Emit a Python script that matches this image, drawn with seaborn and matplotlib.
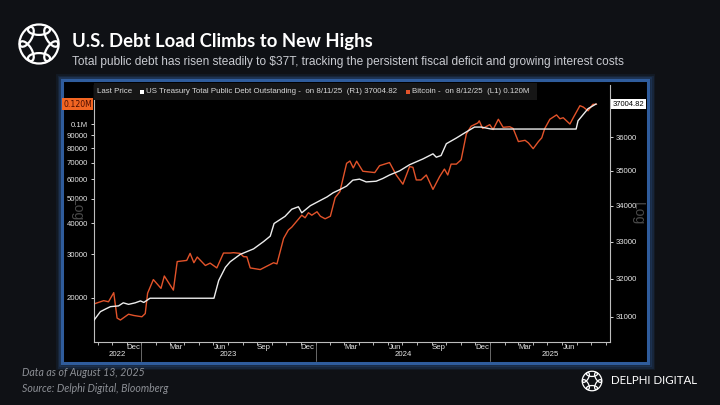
import math
import pandas as pd
import seaborn as sns
import matplotlib.pyplot as plt
import matplotlib.dates as mdates
import matplotlib.transforms as mtransforms
from matplotlib.patches import Rectangle, Ellipse
from matplotlib.ticker import FixedLocator, FixedFormatter, NullLocator

# Bitcoin weekly-ish closes (left axis, log)
btc_dates = [
    "2022-09-23", "2022-10-14", "2022-10-24", "2022-11-04", "2022-11-11", "2022-11-18",
    "2022-12-05", "2022-12-16", "2023-01-02", "2023-01-09", "2023-01-14", "2023-01-26",
    "2023-02-11", "2023-02-18", "2023-03-09", "2023-03-17", "2023-04-06", "2023-04-13",
    "2023-04-21", "2023-04-28", "2023-05-15", "2023-05-25", "2023-06-08", "2023-06-22",
    "2023-07-06", "2023-07-13", "2023-07-27", "2023-08-03", "2023-08-10", "2023-08-17",
    "2023-09-07", "2023-10-05", "2023-10-12", "2023-10-26", "2023-11-05", "2023-11-12",
    "2023-12-03", "2023-12-10", "2023-12-17", "2023-12-24", "2024-01-04", "2024-01-11",
    "2024-01-21", "2024-02-01", "2024-02-11", "2024-02-21", "2024-03-06", "2024-03-13",
    "2024-03-20", "2024-03-27", "2024-04-09", "2024-05-04", "2024-05-14", "2024-06-04",
    "2024-06-18", "2024-07-02", "2024-07-16", "2024-07-23", "2024-07-30", "2024-08-09",
    "2024-08-20", "2024-09-03", "2024-09-17", "2024-09-27", "2024-10-04", "2024-10-11",
    "2024-10-22", "2024-11-01", "2024-11-12", "2024-11-22", "2024-12-06", "2024-12-09",
    "2024-12-16", "2024-12-31", "2025-01-07", "2025-01-18", "2025-01-28", "2025-02-11",
    "2025-02-18", "2025-03-01", "2025-03-15", "2025-03-22", "2025-04-01", "2025-04-12",
    "2025-04-19", "2025-04-25", "2025-05-06", "2025-05-20", "2025-05-27", "2025-06-03",
    "2025-06-17", "2025-06-24", "2025-07-08", "2025-07-15", "2025-07-25", "2025-08-04",
    "2025-08-12",
]
btc_values = [
    18900, 19500, 19300, 21000, 16600, 16300,
    17200, 17000, 16800, 17300, 20900, 23700,
    21850, 24500, 21500, 28000, 28300, 30200,
    27700, 29200, 27000, 27600, 26400, 30300,
    30300, 30400, 30200, 29300, 29250, 26400,
    26000, 27700, 27400, 34700, 37500, 38500,
    43000, 42000, 44000, 43000, 44400, 42600,
    41600, 42600, 50600, 53500, 69500, 71000,
    66600, 70900, 64600, 63800, 68000, 70000,
    62400, 57300, 67400, 67000, 59600, 59600,
    62400, 54600, 61500, 65900, 62400, 69000,
    69000, 71800, 91300, 98000, 101000, 103000,
    96000, 99400, 95000, 104500, 97000, 97500,
    96000, 85000, 86000, 84000, 79600, 85000,
    88000, 95700, 104500, 108800, 105000, 106000,
    100000, 106000, 118500, 117000, 113000, 120000,
    120000,
]

# US Treasury total public debt outstanding, $bn (right axis, log)
debt_dates = [
    "2022-09-23", "2022-10-07", "2022-10-18", "2022-10-28", "2022-11-14", "2022-11-24",
    "2022-12-05", "2022-12-19", "2022-12-30", "2023-01-06", "2023-01-19", "2023-06-02",
    "2023-06-12", "2023-06-26", "2023-07-06", "2023-07-27", "2023-08-24", "2023-09-14",
    "2023-09-28", "2023-10-06", "2023-10-29", "2023-11-12", "2023-11-26", "2023-12-03",
    "2023-12-21", "2024-01-04", "2024-01-25", "2024-02-07", "2024-02-21", "2024-03-06",
    "2024-03-19", "2024-04-02", "2024-04-16", "2024-05-07", "2024-05-21", "2024-06-04",
    "2024-06-25", "2024-07-16", "2024-08-13", "2024-09-03", "2024-09-10", "2024-09-20",
    "2024-10-01", "2024-10-22", "2024-11-08", "2024-11-29", "2024-12-13", "2025-01-03",
    "2025-06-30", "2025-07-04", "2025-07-25", "2025-08-11",
]
debt_values = [
    30900, 31130, 31200, 31260, 31280, 31360,
    31320, 31360, 31410, 31370, 31480, 31480,
    31950, 32300, 32450, 32650, 32800, 33000,
    33150, 33500, 33700, 33900, 33970, 33800,
    34000, 34100, 34250, 34370, 34460, 34560,
    34730, 34760, 34680, 34700, 34780, 34880,
    35000, 35180, 35350, 35500, 35400, 35450,
    35800, 35970, 36120, 36300, 36300, 36240,
    36240, 36490, 36860, 37004.82,
]

btc_ticks = [20000, 30000, 40000, 50000, 60000, 70000, 80000, 90000, 100000]
btc_tick_labels = ["20000", "30000", "40000", "50000", "60000", "70000", "80000", "90000", "0.1M"]
debt_ticks = [31000, 32000, 33000, 34000, 35000, 36000]
debt_tick_labels = ["31000", "32000", "33000", "34000", "35000", "36000"]

BG = "#0f1115"
ORANGE = "#e2532a"
WHITE_LINE = "#ececec"
TICK = "#d6d6d6"
BLUE = "#2f5c9c"

W, H = 720, 405


def fx(px):
    return px / W


def fy(py):
    return 1 - py / H


def draw_knot(fig, cx, cy, half_px, lw):
    # rough stand-in for the Delphi ring logo: six linked loops
    lax = fig.add_axes([fx(cx - half_px), fy(cy + half_px), 2 * half_px / W, 2 * half_px / H])
    lax.set_xlim(-1, 1)
    lax.set_ylim(-1, 1)
    lax.set_aspect("equal")
    lax.axis("off")
    for k in range(6):
        th = k * 60 + 30
        c = math.radians(th)
        lax.add_patch(Ellipse((0.55 * math.cos(c), 0.55 * math.sin(c)), 0.85, 0.4,
                              angle=th + 90, fill=False, ec="white", lw=lw))


sns.set_theme(style="dark")
plt.rcParams["font.family"] = ["Liberation Sans", "DejaVu Sans"]

fig = plt.figure(figsize=(7.2, 4.05), dpi=100, facecolor=BG)

# chart panel with blue glow border (kept behind the axes)
for grow, alpha in [(5, 0.12), (3.5, 0.2), (2, 0.35)]:
    fig.patches.append(Rectangle((fx(62 - grow), fy(363 + grow)), (586 + 2 * grow) / W,
                                 (283 + 2 * grow) / H, transform=fig.transFigure,
                                 fc="none", ec=BLUE, lw=2, alpha=alpha, zorder=-2))
fig.patches.append(Rectangle((fx(62), fy(363)), 586 / W, 283 / H, transform=fig.transFigure,
                             fc="black", ec=BLUE, lw=2.2, zorder=-1))

ax = fig.add_axes([fx(93.7), fy(342), (610 - 93.7) / W, (342 - 85) / H])
ax.set_facecolor("black")
ax2 = ax.twinx()

btc = pd.DataFrame({"date": pd.to_datetime(btc_dates), "value": btc_values})
debt = pd.DataFrame({"date": pd.to_datetime(debt_dates), "value": debt_values})

sns.lineplot(data=btc, x="date", y="value", ax=ax, color=ORANGE, linewidth=1.0, errorbar=None)
sns.lineplot(data=debt, x="date", y="value", ax=ax2, color=WHITE_LINE, linewidth=1.0, errorbar=None)

ax.set_yscale("log")
ax2.set_yscale("log")
ax.set_ylim(13300, 143500)
ax2.set_ylim(30354, 37593)
ax.set_xlim(pd.Timestamp("2022-09-23"), pd.Timestamp("2025-09-09"))

for a, ticks, labels in [(ax, btc_ticks, btc_tick_labels), (ax2, debt_ticks, debt_tick_labels)]:
    a.yaxis.set_major_locator(FixedLocator(ticks))
    a.yaxis.set_major_formatter(FixedFormatter(labels))
    a.yaxis.set_minor_locator(NullLocator())
    a.set_xlabel("")
    a.set_ylabel("")
    a.grid(False)
    for s in a.spines.values():
        s.set_visible(False)

ax.tick_params(axis="y", which="major", left=True, length=2.5, width=0.7, color=TICK,
               labelsize=5.6, labelcolor="#e6e6e6", pad=1.5)
ax2.tick_params(axis="y", which="major", right=True, length=2.5, width=0.7, color=TICK,
                labelsize=5.6, labelcolor="#e6e6e6", pad=1.5)
ax.spines["left"].set_visible(True)
ax.spines["bottom"].set_visible(True)
ax2.spines["right"].set_visible(True)
for s in [ax.spines["left"], ax.spines["bottom"], ax2.spines["right"]]:
    s.set_color("#bdbdbd")
    s.set_linewidth(0.8)

# month ticks and quarter labels
ax.xaxis.set_major_locator(mdates.MonthLocator(bymonth=[3, 6, 9, 12], bymonthday=15))
ax.xaxis.set_major_formatter(mdates.DateFormatter("%b"))
ax.xaxis.set_minor_locator(mdates.MonthLocator())
ax.tick_params(axis="x", which="major", bottom=True, length=0, labelsize=5.6,
               labelcolor="#e6e6e6", pad=1.5)
ax.tick_params(axis="x", which="minor", bottom=True, length=2, width=0.6, color=TICK)

trans = mtransforms.blended_transform_factory(ax.transData, ax.transAxes)
x0, x1 = ax.get_xlim()
bounds = [x0] + [mdates.date2num(pd.Timestamp(f"{y}-01-01")) for y in (2023, 2024, 2025)] + [x1]
for i, year in enumerate(["2022", "2023", "2024", "2025"]):
    ax.text((bounds[i] + bounds[i + 1]) / 2, -0.05, year, transform=trans, ha="center",
            va="center", fontsize=5.6, color="#e6e6e6")
for b in bounds[1:-1]:
    ax.plot([b, b], [0, -0.075], transform=trans, color="#7a7a7a", lw=0.6, clip_on=False)

# bloomberg style legend strip
ax.add_patch(Rectangle((0, 0.9416), 0.859, 0.066, transform=ax.transAxes, fc="#161616",
                       ec="none", clip_on=False, zorder=5))
leg_font = ["Liberation Sans Narrow", "Liberation Sans", "DejaVu Sans"]
fig.text(fx(97), fy(91.5), "Last Price", fontsize=5.7, color="#d8d8d8", va="center",
         family=leg_font)
fig.patches.append(Rectangle((fx(139.5), fy(93.5)), 4 / W, 4 / H, transform=fig.transFigure,
                             fc="white", ec="none", zorder=10))
fig.text(fx(145.5), fy(91.5), "US Treasury Total Public Debt Outstanding -  on 8/11/25  (R1) 37004.82",
         fontsize=5.7, color="#d8d8d8", va="center", family=leg_font)
fig.patches.append(Rectangle((fx(406), fy(93.5)), 4 / W, 4 / H, transform=fig.transFigure,
                             fc=ORANGE, ec="none", zorder=10))
fig.text(fx(412), fy(91.5), "Bitcoin -  on 8/12/25  (L1) 0.120M", fontsize=5.7,
         color="#d8d8d8", va="center", family=leg_font)

# last value tags
fig.text(fx(77.5), fy(104), "0.120M", fontsize=5.6, color="#4a0c00", ha="center", va="center",
         family=["DejaVu Sans"], bbox=dict(boxstyle="square,pad=0.2", fc="#f26522", ec="none"))
fig.text(fx(628.5), fy(104), "37004.82", fontsize=5.5, color="black", ha="center", va="center",
         family=leg_font, bbox=dict(boxstyle="square,pad=0.2", fc="white", ec="none"))

fig.text(fx(77), fy(210), "Log", rotation=270, fontsize=10, color="#4a4a4a", ha="center",
         va="center")
fig.text(fx(638), fy(214), "Log", rotation=270, fontsize=10, color="#4a4a4a", ha="center",
         va="center")

# header
draw_knot(fig, 39, 44, 26, 1.6)
fig.text(fx(72), fy(46.7), "U.S. Debt Load Climbs to New Highs", fontsize=13.3, fontweight="bold",
         color="white", va="baseline", family=["Lato", "DejaVu Sans"])
fig.text(fx(72), fy(65), "Total public debt has risen steadily to $37T, tracking the persistent "
         "fiscal deficit and growing interest costs", fontsize=8.6, color="#c9cbd1",
         va="baseline")

# footer
fig.text(fx(22), fy(373), "Data as of August 13, 2025", fontsize=7.6, style="italic",
         color="#8d9096", va="center", family=["Lato", "DejaVu Sans"])
fig.text(fx(22), fy(388), "Source: Delphi Digital, Bloomberg", fontsize=7.6, style="italic",
         color="#8d9096", va="center", family=["Lato", "DejaVu Sans"])
draw_knot(fig, 592, 381, 13, 0.9)
fig.text(fx(611), fy(381), "DELPHI DIGITAL", fontsize=8.3, color="white", va="center",
         family=["Lato", "DejaVu Sans"])

fig.savefig("out.png", dpi=100, facecolor=BG)
